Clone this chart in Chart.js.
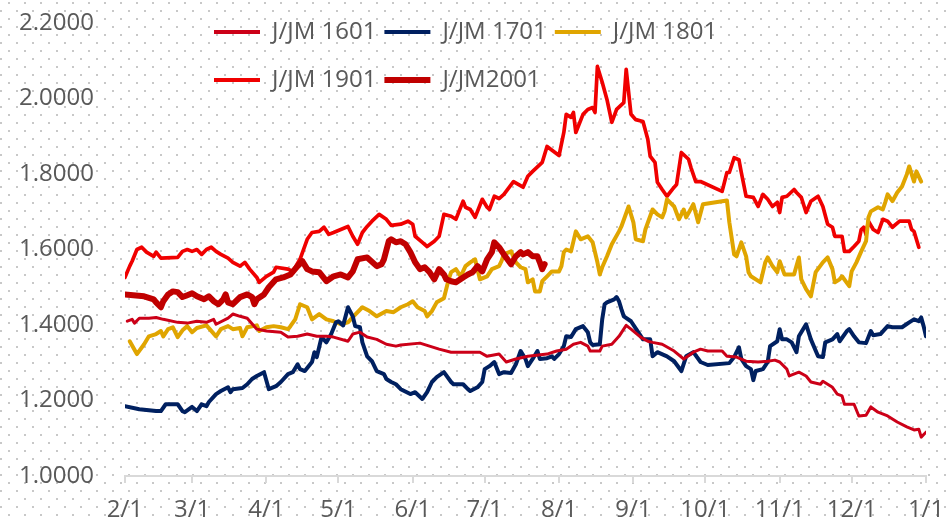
<!DOCTYPE html>
<html>
<head>
<meta charset="utf-8">
<script src="https://cdn.jsdelivr.net/npm/chart.js@4.4.1/dist/chart.umd.min.js"></script>
<style>
  html, body { margin: 0; padding: 0; background: #fff; }
  #wrap {
    width: 947px; height: 522px; position: relative;
    background-color: #fff;
    background-image:
      radial-gradient(circle at 1px 1px, #c8c8c8 1px, rgba(255,255,255,0) 1.4px),
      radial-gradient(circle at 1px 1px, #c8c8c8 1px, rgba(255,255,255,0) 1.4px);
    background-size: 16px 16px;
    background-position: 0 10px, 8px 2px;
  }
</style>
</head>
<body>
<div id="wrap"><canvas id="myChart" width="947" height="522"></canvas></div>
<script>
// x = days since 2/1
let monthDays=[0,28,59,89,120,150,181,212,242,273,303,334]
let monthLabels=['2/1','3/1','4/1','5/1','6/1','7/1','8/1','9/1','10/1','11/1','12/1','1/1']

let d1601=[1,3,4,6,10,13,16,22,26,30,34,37,38,43,45,48,51,55,59,65,68,72,76,80,84,87,93,95,98,101,105,109,113,115,123,127,131,136,144,148,151,156,159,163,168,176,180,184,187,190,193,194,198,199,203,206,209,211,215,218,220,224,229,233,237,240,243,249,251,255,259,264,268,271,273,276,277,281,284,286,290,291,295,297,299,300,304,306,309,311,314,318,322,326,329,331,332,334]
let v1601=[1.410,1.415,1.405,1.418,1.418,1.420,1.415,1.407,1.405,1.410,1.407,1.415,1.402,1.418,1.429,1.423,1.418,1.389,1.384,1.381,1.368,1.370,1.376,1.370,1.370,1.368,1.357,1.376,1.381,1.368,1.362,1.349,1.344,1.347,1.352,1.344,1.336,1.328,1.328,1.328,1.317,1.323,1.302,1.310,1.317,1.323,1.331,1.336,1.349,1.354,1.344,1.331,1.331,1.344,1.349,1.370,1.399,1.389,1.368,1.357,1.354,1.349,1.331,1.310,1.328,1.336,1.331,1.331,1.317,1.315,1.304,1.302,1.304,1.307,1.302,1.283,1.265,1.275,1.265,1.249,1.243,1.251,1.235,1.217,1.212,1.190,1.190,1.159,1.161,1.183,1.169,1.159,1.143,1.130,1.122,1.124,1.103,1.116]

let d1701=[0,6,13,15,17,22,24,25,28,30,32,34,35,38,40,43,44,45,49,51,53,55,58,60,63,65,68,70,72,73,75,78,79,80,82,84,86,88,89,91,93,95,96,98,99,101,103,105,108,109,111,113,115,119,121,124,126,128,130,133,136,137,141,143,144,147,149,150,152,154,156,158,161,163,165,167,168,170,172,173,176,178,179,181,183,184,186,188,191,193,194,195,198,199,200,201,204,205,206,207,208,211,214,216,219,220,222,226,229,232,234,237,240,243,252,254,256,257,259,261,262,263,266,268,269,272,273,274,276,278,280,281,284,286,289,291,292,295,297,298,301,302,304,306,309,311,312,315,318,320,324,327,329,331,332,333,334]
let v1701=[1.185,1.177,1.172,1.172,1.190,1.190,1.172,1.169,1.183,1.172,1.190,1.185,1.196,1.217,1.225,1.235,1.222,1.230,1.233,1.243,1.257,1.265,1.275,1.230,1.238,1.249,1.270,1.275,1.296,1.283,1.278,1.302,1.328,1.315,1.368,1.354,1.376,1.407,1.410,1.399,1.447,1.423,1.397,1.394,1.354,1.317,1.304,1.278,1.270,1.257,1.249,1.243,1.230,1.217,1.222,1.204,1.222,1.249,1.262,1.275,1.249,1.243,1.243,1.230,1.225,1.235,1.249,1.283,1.291,1.302,1.270,1.275,1.273,1.296,1.331,1.310,1.291,1.310,1.331,1.310,1.312,1.317,1.310,1.323,1.344,1.370,1.368,1.389,1.397,1.381,1.354,1.347,1.349,1.415,1.455,1.460,1.468,1.474,1.463,1.442,1.423,1.410,1.381,1.362,1.362,1.317,1.328,1.317,1.304,1.278,1.317,1.328,1.302,1.294,1.299,1.315,1.341,1.310,1.291,1.283,1.254,1.278,1.283,1.302,1.344,1.357,1.389,1.362,1.362,1.354,1.328,1.370,1.402,1.362,1.317,1.315,1.354,1.362,1.376,1.357,1.384,1.389,1.370,1.354,1.352,1.384,1.373,1.376,1.397,1.394,1.394,1.407,1.415,1.410,1.420,1.397,1.370]

let d1801=[2,5,8,10,13,15,16,18,20,22,24,26,28,30,34,38,40,43,45,48,49,51,55,56,59,62,65,68,69,71,73,76,78,81,84,87,90,93,95,99,102,105,109,112,115,118,120,122,125,126,128,130,133,135,136,138,140,142,144,146,148,151,153,156,157,158,161,163,165,167,168,170,171,173,174,176,178,181,182,183,184,186,188,190,193,195,197,198,199,201,203,206,207,210,212,213,216,217,220,222,224,225,226,229,231,233,234,237,239,241,249,251,252,254,255,257,259,260,261,265,267,268,270,272,273,275,279,281,282,284,286,288,291,293,295,296,298,299,302,303,305,307,309,310,311,314,316,317,318,320,322,324,326,327,329,330,332]
let v1801=[1.357,1.323,1.349,1.370,1.376,1.384,1.370,1.389,1.394,1.368,1.386,1.397,1.381,1.392,1.399,1.370,1.389,1.397,1.389,1.392,1.370,1.394,1.399,1.384,1.394,1.397,1.394,1.389,1.397,1.415,1.455,1.447,1.415,1.429,1.415,1.410,1.402,1.407,1.421,1.447,1.437,1.423,1.437,1.434,1.447,1.455,1.463,1.447,1.437,1.423,1.437,1.460,1.471,1.521,1.540,1.548,1.529,1.556,1.566,1.574,1.521,1.529,1.548,1.556,1.569,1.587,1.595,1.566,1.553,1.548,1.513,1.521,1.489,1.489,1.516,1.529,1.542,1.542,1.556,1.593,1.600,1.595,1.648,1.627,1.635,1.619,1.566,1.534,1.553,1.582,1.614,1.648,1.661,1.714,1.672,1.627,1.622,1.653,1.706,1.693,1.685,1.701,1.733,1.714,1.680,1.706,1.685,1.720,1.672,1.720,1.728,1.730,1.672,1.587,1.582,1.619,1.582,1.540,1.529,1.513,1.566,1.579,1.556,1.540,1.569,1.534,1.534,1.579,1.521,1.495,1.476,1.540,1.566,1.579,1.548,1.513,1.521,1.529,1.503,1.542,1.566,1.595,1.622,1.685,1.701,1.712,1.706,1.725,1.746,1.728,1.751,1.767,1.799,1.820,1.780,1.807,1.780]

let d1901=[0,2,3,5,7,9,12,13,15,22,24,26,28,30,32,34,36,38,40,43,45,48,50,52,55,56,59,62,63,68,70,73,76,78,81,83,85,87,90,93,95,97,99,101,103,106,109,111,115,118,120,121,124,126,129,131,133,136,138,141,142,144,146,149,151,152,154,156,158,162,166,168,170,174,176,181,183,184,186,187,188,191,193,195,196,197,199,201,203,205,208,209,211,213,216,218,219,221,222,224,226,229,230,232,235,236,238,240,249,251,252,254,256,257,259,262,264,266,268,270,272,273,274,276,279,280,282,284,286,289,291,293,295,296,299,300,302,304,306,307,308,309,310,312,314,316,318,320,323,327,328,329,331]
let v1901=[1.526,1.556,1.569,1.600,1.606,1.593,1.582,1.593,1.577,1.579,1.595,1.600,1.595,1.600,1.587,1.600,1.606,1.595,1.587,1.577,1.566,1.556,1.566,1.548,1.526,1.513,1.529,1.540,1.553,1.548,1.542,1.574,1.627,1.645,1.648,1.659,1.640,1.645,1.653,1.661,1.635,1.614,1.645,1.661,1.675,1.693,1.680,1.664,1.667,1.675,1.667,1.635,1.619,1.608,1.622,1.635,1.693,1.688,1.680,1.728,1.712,1.706,1.685,1.733,1.712,1.706,1.741,1.735,1.746,1.780,1.765,1.794,1.807,1.831,1.873,1.849,1.910,1.958,1.950,1.963,1.910,1.958,1.971,1.976,1.963,2.085,2.043,1.997,1.937,1.971,1.989,2.077,1.958,1.944,1.939,1.892,1.847,1.831,1.778,1.759,1.741,1.765,1.772,1.857,1.839,1.817,1.780,1.780,1.754,1.804,1.804,1.843,1.838,1.804,1.741,1.738,1.714,1.746,1.733,1.714,1.725,1.698,1.738,1.741,1.759,1.751,1.738,1.698,1.728,1.741,1.714,1.667,1.659,1.635,1.635,1.595,1.595,1.608,1.622,1.653,1.659,1.640,1.675,1.653,1.645,1.680,1.675,1.659,1.675,1.675,1.653,1.648,1.606]

let d2001=[0,8,12,13,15,16,18,20,22,24,26,28,30,33,35,37,39,41,42,43,45,48,51,53,54,55,58,60,63,66,69,72,74,76,78,81,84,87,90,93,95,97,101,105,107,108,110,111,113,115,117,119,121,123,125,127,129,131,133,134,136,138,141,143,145,147,149,151,153,154,156,158,161,163,165,166,168,170,172,173,174,175]
let v2001=[1.481,1.476,1.468,1.460,1.447,1.463,1.481,1.489,1.487,1.474,1.479,1.484,1.476,1.468,1.476,1.463,1.455,1.468,1.481,1.460,1.455,1.474,1.481,1.474,1.455,1.468,1.481,1.500,1.521,1.526,1.534,1.556,1.569,1.548,1.542,1.540,1.516,1.529,1.534,1.526,1.542,1.574,1.579,1.556,1.561,1.574,1.622,1.627,1.619,1.622,1.614,1.593,1.566,1.548,1.553,1.540,1.521,1.548,1.534,1.521,1.516,1.513,1.526,1.534,1.540,1.556,1.542,1.574,1.593,1.619,1.606,1.587,1.561,1.582,1.593,1.587,1.593,1.582,1.582,1.566,1.548,1.561]

const textColor='#595959'
const axisColor='#d9d9d9'
const fontFam="'Open Sans', sans-serif"

const ctx = document.getElementById('myChart');

function pts(days, vals){
  return days.map((d, i) => ({x: d, y: vals[i]}))
}

// legend rows sit at y=32 and y=80; sample line = thin band painted in a tall box
function band(color, mid, thick){
  const g = ctx.getContext('2d').createLinearGradient(0, mid-20, 0, mid+20)
  const a = (20 - thick/2)/40
  g.addColorStop(0, 'rgba(0,0,0,0)')
  g.addColorStop(a, 'rgba(0,0,0,0)')
  g.addColorStop(a, color)
  g.addColorStop(1-a, color)
  g.addColorStop(1-a, 'rgba(0,0,0,0)')
  g.addColorStop(1, 'rgba(0,0,0,0)')
  return g
}

// legend takes ~no room in the layout, then gets moved over the plot
const placeLegend = {
  id: 'placeLegend',
  afterLayout(chart){
    const lg = chart.legend
    lg.left = 206; lg.right = 806; lg.width = 600
    lg.top = 4; lg.bottom = 114; lg.height = 110
  }
}

let myChart = new Chart(ctx, {
  type: 'line',
  data: {
    datasets: [
      {label: 'J/JM 1601', data: pts(d1601, v1601), borderColor: '#CC0018', borderWidth: 3},
      {label: 'J/JM 1701', data: pts(d1701, v1701), borderColor: '#002060', borderWidth: 4},
      {label: 'J/JM 1801', data: pts(d1801, v1801), borderColor: '#E0A500', borderWidth: 4},
      {label: 'J/JM 1901', data: pts(d1901, v1901), borderColor: '#F00000', borderWidth: 3.7},
      {label: 'J/JM2001', data: pts(d2001, v2001), borderColor: '#C00000', borderWidth: 6, order: -1}
    ]
  },
  options: {
    responsive: false,
    animation: false,
    devicePixelRatio: 1,
    layout: {padding: {left: 19, right: 21, top: 22, bottom: 0}},
    elements: {
      point: {radius: 0},
      line: {tension: 0, borderJoinStyle: 'round', borderCapStyle: 'round'}
    },
    plugins: {
      tooltip: {enabled: false},
      legend: {
        position: 'top',
        align: 'start',
        maxHeight: 1,
        labels: {
          boxWidth: 46,
          boxHeight: 40,
          padding: 8,
          color: textColor,
          font: {family: fontFam, size: 24},
          generateLabels: chart => chart.data.datasets.map((ds, i) => ({
            text: ds.label,
            fillStyle: band(ds.borderColor, i < 3 ? 32 : 80, i == 4 ? 6 : 4),
            strokeStyle: 'rgba(0,0,0,0)',
            lineWidth: 0,
            fontColor: textColor,
            hidden: false,
            datasetIndex: i
          }))
        }
      }
    },
    scales: {
      x: {
        type: 'linear',
        min: 0,
        max: 334,
        afterBuildTicks: s => { s.ticks = monthDays.map(v => ({value: v})) },
        // chart.js counts tick padding twice when sizing, take one back
        afterFit: s => { s.height -= 15; s.paddingLeft = 0; s.paddingRight = 0 },
        ticks: {
          autoSkip: false,
          maxRotation: 0,
          padding: 15,
          color: textColor,
          font: {family: fontFam, size: 24, lineHeight: 1},
          callback: (v, i) => monthLabels[i]
        },
        grid: {drawOnChartArea: false, drawTicks: true, tickLength: 7, color: axisColor, lineWidth: 2},
        border: {color: axisColor, width: 2}
      },
      y: {
        min: 1,
        max: 2.2,
        afterFit: s => { s.width -= 31; s.paddingTop = 0; s.paddingBottom = 0 },
        ticks: {
          stepSize: 0.2,
          padding: 31,
          color: textColor,
          font: {family: fontFam, size: 24},
          callback: v => v.toFixed(4)
        },
        grid: {display: false, drawTicks: false},
        border: {display: false}
      }
    }
  },
  plugins: [placeLegend]
});
</script>
</body>
</html>
